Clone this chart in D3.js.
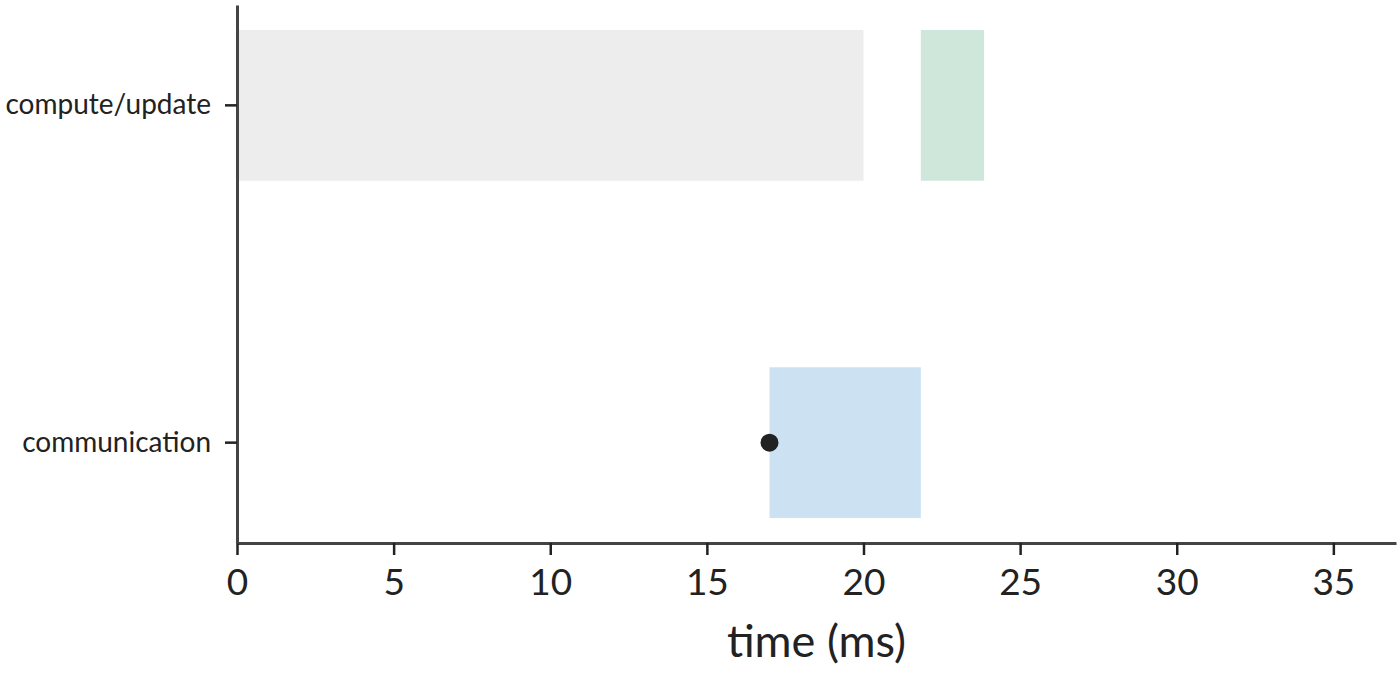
<!DOCTYPE html>
<html>
<head>
<meta charset="utf-8">
<script src="https://cdn.jsdelivr.net/npm/d3@7"></script>
<style>
  body { margin: 0; background: #fff; }
  svg { font-family: Lato, "Noto Sans", sans-serif; }
</style>
</head>
<body>
<div id="chart"></div>
<script>
// lanes, top to bottom
const lanes = ["compute/update", "communication"];

// spans in ms: lane, start, end, colour
const spanLane  = ["compute/update", "compute/update", "communication"];
const spanStart = [0, 21.83, 17.0];
const spanEnd   = [20.0, 23.85, 21.83];
const spanColor = ["#ededed", "#cfe7db", "#cce2f3"];

// event marker
const markLane = ["communication"];
const markTime = [17.0];

const xTicks = [0, 5, 10, 15, 20, 25, 30, 35];
const xMax = 37;

const width = 1400, height = 673;
const margin = {left: 237, right: 4, top: 5, bottom: 130};
const font = "Lato, 'Noto Sans', sans-serif";

const svg = d3.select("#chart").append("svg")
    .attr("width", width)
    .attr("height", height);

const x = d3.scaleLinear()
    .domain([0, xMax])
    .range([margin.left, width - margin.right]);

const y = d3.scaleBand()
    .domain(lanes)
    .range([margin.top, height - margin.bottom])
    .paddingInner(0.553)
    .paddingOuter(0.074);

const spans = spanLane.map((l, i) => ({lane: l, start: spanStart[i], end: spanEnd[i], color: spanColor[i]}));

svg.selectAll(".span")
    .data(spans)
    .enter().append("rect")
    .attr("class", "span")
    .attr("x", d => x(d.start))
    .attr("y", d => y(d.lane))
    .attr("width", d => x(d.end) - x(d.start))
    .attr("height", y.bandwidth())
    .attr("fill", d => d.color);

svg.selectAll(".mark")
    .data(markLane.map((l, i) => ({lane: l, t: markTime[i]})))
    .enter().append("circle")
    .attr("class", "mark")
    .attr("cx", d => x(d.t))
    .attr("cy", d => y(d.lane) + y.bandwidth() / 2)
    .attr("r", 9)
    .attr("fill", "#222");

// x axis
const xAxis = svg.append("g")
    .attr("transform", `translate(0,${height - margin.bottom})`)
    .call(d3.axisBottom(x).tickValues(xTicks).tickSize(12).tickPadding(14).tickSizeOuter(0))
    .attr("font-family", font);
xAxis.select(".domain").attr("stroke", "#444").attr("stroke-width", 3);
xAxis.selectAll(".tick line").attr("stroke", "#222").attr("stroke-width", 2.5);
xAxis.selectAll(".tick text")
    .attr("fill", "#222")
    .attr("font-size", 37);

svg.append("text")
    .attr("x", (x.range()[0] + x.range()[1]) / 2)
    .attr("y", 657)
    .attr("text-anchor", "middle")
    .attr("fill", "#222")
    .attr("font-size", 45)
    .text("time (ms)");

// y axis
const yAxis = svg.append("g")
    .attr("transform", `translate(${margin.left},0)`)
    .call(d3.axisLeft(y).tickSize(12).tickPadding(14).tickSizeOuter(0))
    .attr("font-family", font);
yAxis.select(".domain").attr("stroke", "#444").attr("stroke-width", 3);
yAxis.selectAll(".tick line").attr("stroke", "#222").attr("stroke-width", 2.5);
yAxis.selectAll(".tick text")
    .attr("fill", "#222")
    .attr("font-size", 28);
</script>
</body>
</html>
